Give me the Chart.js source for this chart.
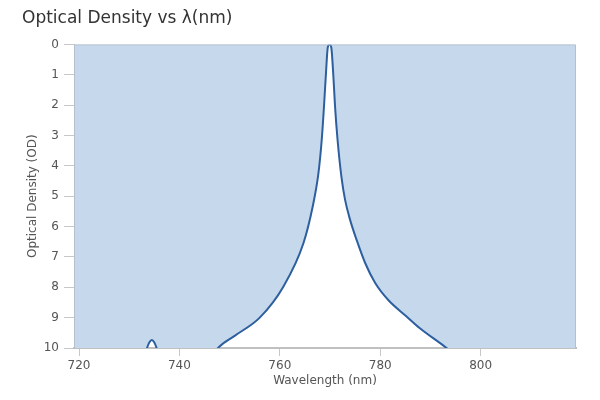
<!DOCTYPE html>
<html>
<head>
<meta charset="utf-8">
<script src="https://cdn.jsdelivr.net/npm/chart.js@4"></script>
<style>
  html, body { margin: 0; padding: 0; background: #fff; }
  #wrap { width: 600px; height: 400px; }
</style>
</head>
<body>
<div id="wrap"><canvas id="odChart"></canvas></div>
<script>
// wavelength (nm) and optical density
const wavelength = [719, 728, 732, 733.4, 734, 734.5, 735, 735.6, 737, 744, 746.5, 747.7, 751, 756,
  760.7, 764.7, 766.55, 767.7, 768.35, 768.8, 769.2, 769.55, 769.9, 770.25, 770.65, 771.0, 771.5,
  772.3, 773.0, 774.0, 775.3, 777.0, 779.0, 781.6, 785.3, 787.9, 793.2, 796, 819];
const opticalDensity = [10.6, 10.6, 10.4, 10.05, 9.82, 9.74, 9.82, 10.05, 10.4, 10.6, 10.3, 10.0, 9.6, 9.0,
  7.98, 6.55, 5.34, 4.23, 3.14, 2.04, 0.93, 0.1, 0, 0.1, 1.0, 2.04, 3.14,
  4.4, 5.12, 5.78, 6.44, 7.2, 7.86, 8.42, 8.97, 9.35, 10.0, 10.4, 10.6];
const xTicks = [720, 740, 760, 780, 800];
const yTicks = [0, 1, 2, 3, 4, 5, 6, 7, 8, 9, 10];

const points = wavelength.map((w, i) => ({ x: w, y: opticalDensity[i] }));

const frame = {
  id: 'frame',
  afterDraw(chart) {
    const a = chart.chartArea, ctx = chart.ctx;
    ctx.save();
    ctx.strokeStyle = '#b4c0ce';
    ctx.lineWidth = 1;
    ctx.beginPath();
    ctx.moveTo(a.left + 0.5, a.bottom);
    ctx.lineTo(a.left + 0.5, a.top + 0.5);
    ctx.lineTo(a.right - 0.5, a.top + 0.5);
    ctx.lineTo(a.right - 0.5, a.bottom);
    ctx.stroke();
    ctx.restore();
  }
};

new Chart(document.getElementById('odChart'), {
  type: 'line',
  data: {
    datasets: [{
      data: points,
      borderColor: '#2d5f9f',
      backgroundColor: '#c6d8eb',
      borderWidth: 2,
      pointRadius: 0,
      fill: 'end',
      cubicInterpolationMode: 'monotone'
    }]
  },
  options: {
    responsive: true,
    maintainAspectRatio: false,
    animation: false,
    layout: { padding: { left: 22, right: 24, top: 0, bottom: 8 } },
    plugins: {
      legend: { display: false },
      tooltip: { enabled: false },
      title: {
        display: true,
        text: 'Optical Density vs λ(nm)',
        align: 'start',
        color: '#333',
        font: { family: 'DejaVu Sans', size: 17, weight: 'normal' },
        padding: { top: 8, bottom: 16 }
      }
    },
    scales: {
      x: {
        type: 'linear',
        min: 719,
        max: 819,
        afterBuildTicks: axis => { axis.ticks = xTicks.map(v => ({ value: v })); },
        afterFit: axis => { axis.height = 44; },
        grid: { drawOnChartArea: false, color: '#c8c8c8', tickLength: 8 },
        border: { color: '#c0c0c0', width: 2 },
        ticks: { color: '#555', font: { family: 'DejaVu Sans', size: 12 }, padding: 3, maxRotation: 0 },
        title: { display: true, text: 'Wavelength (nm)', color: '#555', font: { family: 'DejaVu Sans', size: 12 }, padding: { top: 3 } }
      },
      y: {
        type: 'linear',
        reverse: true,
        min: 0,
        max: 10,
        afterBuildTicks: axis => { axis.ticks = yTicks.map(v => ({ value: v })); },
        afterFit: axis => { axis.width = 52; },
        grid: { drawOnChartArea: false, color: '#c8c8c8', tickLength: 10 },
        border: { color: '#b4c0ce' },
        ticks: { color: '#555', font: { family: 'DejaVu Sans', size: 12 }, padding: 5 },
        title: { display: true, text: 'Optical Density (OD)', color: '#555', font: { family: 'DejaVu Sans', size: 12 }, padding: { bottom: 4 } }
      }
    }
  },
  plugins: [frame]
});
</script>
</body>
</html>
